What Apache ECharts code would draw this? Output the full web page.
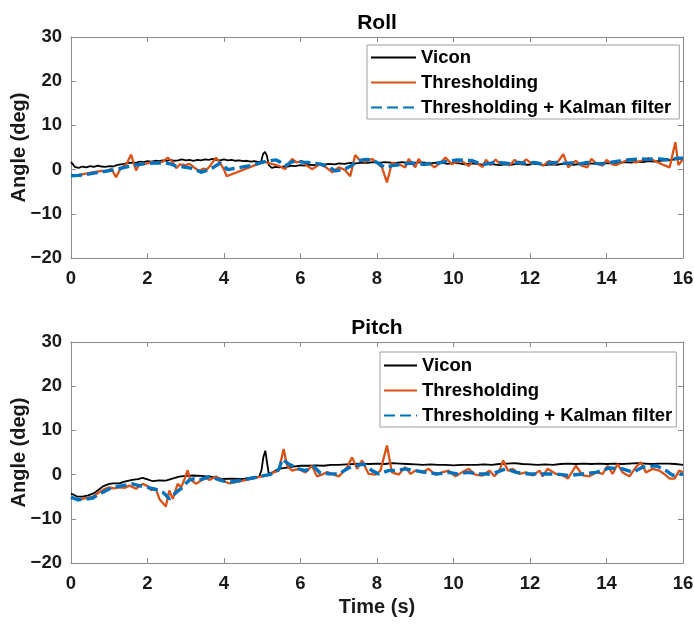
<!DOCTYPE html>
<html>
<head>
<meta charset="utf-8">
<script src="https://cdn.jsdelivr.net/npm/echarts@6/dist/echarts.min.js"></script>
<style>
  html, body { margin: 0; padding: 0; background: #fff; }
  #chart { width: 694px; height: 626px; }
</style>
</head>
<body>
<div id="chart"></div>
<script>
// Attitude estimates over time: [time (s), angle (deg)]
const rollVicon = [[0,1.7],[0.05,1.2],[0.1,0.6],[0.2,0.4],[0.3,0.7],[0.4,0.5],[0.5,0.8],[0.6,0.6],[0.7,0.9],[0.8,0.7],[0.9,0.6],[1.0,0.8],[1.1,0.7],[1.2,1.0],[1.3,1.2],[1.4,1.3],[1.5,1.5],[1.6,1.6],[1.7,1.5],[1.8,1.8],[1.9,1.7],[2.0,1.9],[2.1,1.8],[2.2,2.0],[2.3,1.9],[2.4,2.1],[2.5,2.0],[2.6,2.2],[2.7,2.0],[2.8,2.1],[2.9,2.3],[3.0,2.1],[3.1,2.2],[3.2,2.0],[3.3,2.2],[3.4,2.1],[3.5,2.3],[3.6,2.2],[3.7,2.4],[3.8,2.2],[3.9,2.1],[4.0,2.3],[4.1,2.1],[4.2,2.2],[4.3,2.0],[4.4,2.1],[4.5,1.9],[4.6,2.0],[4.7,1.8],[4.8,1.9],[4.9,1.7],[4.97,1.8],[5.02,3.5],[5.07,4.0],[5.12,3.2],[5.17,1.0],[5.25,0.4],[5.35,0.6],[5.45,0.5],[5.55,0.7],[5.65,0.6],[5.75,0.9],[5.85,0.8],[6.0,1.0],[6.1,0.9],[6.2,1.1],[6.35,1.0],[6.5,1.2],[6.6,1.1],[6.75,1.3],[6.9,1.2],[7.0,1.4],[7.15,1.3],[7.3,1.5],[7.45,1.4],[7.6,1.6],[7.75,1.5],[7.9,1.7],[8.05,1.5],[8.2,1.7],[8.35,1.6],[8.5,1.5],[8.65,1.7],[8.8,1.6],[8.95,1.5],[9.1,1.7],[9.25,1.6],[9.4,1.4],[9.55,1.6],[9.7,1.5],[9.85,1.3],[10.0,1.5],[10.15,1.4],[10.3,1.2],[10.45,1.4],[10.6,1.3],[10.75,1.1],[10.9,1.3],[11.05,1.2],[11.2,1.0],[11.35,1.2],[11.5,1.1],[11.65,1.3],[11.8,1.2],[11.95,1.1],[12.1,1.3],[12.25,1.2],[12.4,1.0],[12.55,1.2],[12.7,1.1],[12.85,1.3],[13.0,1.2],[13.15,1.1],[13.3,1.3],[13.45,1.2],[13.6,1.4],[13.75,1.3],[13.9,1.5],[14.05,1.4],[14.2,1.6],[14.35,1.5],[14.5,1.7],[14.65,1.6],[14.8,1.8],[14.95,1.7],[15.1,1.9],[15.25,1.8],[15.4,2.0],[15.55,2.1],[15.7,2.2],[15.85,2.4],[16.0,2.6]];

const rollThresh = [[0,-1.3],[0.2,-1.2],[0.4,-0.9],[0.6,-0.6],[0.8,-0.3],[0.95,-0.4],[1.05,0.2],[1.18,-1.7],[1.3,0.3],[1.45,1.2],[1.57,3.4],[1.7,-0.2],[1.8,1.5],[1.95,1.3],[2.1,1.7],[2.25,1.5],[2.4,1.8],[2.53,2.7],[2.65,1.8],[2.75,0.3],[2.85,1.2],[3.0,1.0],[3.1,1.3],[3.2,0.6],[3.35,-0.3],[3.45,0.2],[3.55,0.0],[3.65,1.0],[3.79,2.7],[3.9,1.5],[4.0,0.0],[4.07,-1.5],[5.05,1.8],[5.15,1.5],[5.3,1.2],[5.45,0.8],[5.6,0.1],[5.78,2.4],[5.9,1.6],[6.04,2.0],[6.15,1.0],[6.3,0.1],[6.5,1.2],[6.65,0.6],[6.83,-0.6],[7.0,0.5],[7.15,0.0],[7.3,-1.5],[7.43,3.3],[7.56,2.0],[7.7,1.8],[7.87,2.4],[8.0,1.6],[8.13,0.5],[8.26,-2.9],[8.39,1.5],[8.57,1.2],[8.74,0.5],[8.83,2.4],[9.0,0.5],[9.09,2.4],[9.2,1.0],[9.35,1.6],[9.5,0.5],[9.65,1.5],[9.79,2.7],[9.96,1.2],[10.1,1.8],[10.2,2.0],[10.4,0.8],[10.5,2.0],[10.65,1.2],[10.76,0.6],[10.85,2.2],[10.97,1.0],[11.1,2.3],[11.2,1.4],[11.35,1.6],[11.47,0.9],[11.6,2.2],[11.75,1.2],[11.8,0.8],[11.9,2.3],[12.05,1.3],[12.2,1.6],[12.35,0.9],[12.5,2.0],[12.65,1.2],[12.75,2.0],[12.87,3.5],[13.0,0.5],[13.1,1.4],[13.2,2.0],[13.35,0.9],[13.5,0.5],[13.6,2.4],[13.75,1.3],[13.9,0.9],[14.0,2.2],[14.15,1.2],[14.25,1.0],[14.4,1.6],[14.6,2.4],[14.75,1.6],[14.9,2.0],[15.1,2.6],[15.25,2.0],[15.4,1.4],[15.5,1.0],[15.65,0.5],[15.8,6.2],[15.88,1.0],[16.0,2.4]];

const rollKalman = [[0,-1.4],[0.2,-1.3],[0.4,-1.1],[0.6,-0.8],[0.75,-0.6],[0.95,-0.3],[1.18,0.0],[1.4,0.5],[1.6,0.9],[1.8,1.2],[2.0,1.35],[2.2,1.5],[2.45,1.5],[2.6,1.3],[2.75,0.8],[2.95,0.6],[3.1,0.4],[3.25,0.0],[3.4,-0.6],[3.55,-0.2],[3.7,0.4],[3.9,1.5],[4.1,0.0],[4.3,0.3],[4.5,0.6],[4.7,0.9],[4.9,1.4],[5.1,1.9],[5.35,2.2],[5.45,1.8],[5.6,0.8],[5.75,1.7],[5.9,1.9],[6.05,1.7],[6.2,1.6],[6.4,1.4],[6.55,1.2],[6.75,0.6],[6.9,-0.3],[7.05,-0.1],[7.2,0.3],[7.35,1.0],[7.5,2.0],[7.7,2.3],[7.87,2.2],[8.0,1.6],[8.2,0.5],[8.4,0.9],[8.57,1.1],[8.75,1.3],[8.92,1.5],[9.1,1.3],[9.27,1.2],[9.45,1.4],[9.6,1.5],[9.8,1.8],[9.96,2.0],[10.1,2.2],[10.3,2.1],[10.5,2.0],[10.65,1.5],[10.8,1.2],[10.95,1.4],[11.1,1.7],[11.3,1.5],[11.5,1.3],[11.7,1.6],[11.9,1.4],[12.1,1.6],[12.3,1.3],[12.5,1.5],[12.7,1.6],[12.9,1.4],[13.1,1.5],[13.3,1.3],[13.5,1.6],[13.7,1.4],[13.9,1.3],[14.1,1.6],[14.3,1.9],[14.5,2.1],[14.7,2.3],[14.9,2.4],[15.1,2.3],[15.3,2.5],[15.5,2.3],[15.7,2.2],[15.85,2.6],[16.0,2.6]];

const pitchVicon = [[0,-4.3],[0.08,-4.6],[0.17,-5.0],[0.3,-5.0],[0.45,-4.7],[0.6,-4.2],[0.74,-3.3],[0.85,-2.6],[1.0,-2.1],[1.1,-2.0],[1.26,-2.0],[1.4,-1.6],[1.6,-1.2],[1.75,-1.0],[1.87,-0.75],[2.0,-1.1],[2.14,-1.5],[2.3,-1.3],[2.48,-1.35],[2.65,-0.9],[2.83,-0.45],[3.0,-0.3],[3.18,-0.2],[3.4,-0.3],[3.62,-0.45],[3.8,-0.7],[3.97,-1.0],[4.2,-0.9],[4.49,-1.0],[4.7,-0.7],[4.92,-0.45],[4.98,1.0],[5.03,4.0],[5.08,5.4],[5.13,2.5],[5.17,0.2],[5.27,0.5],[5.36,1.0],[5.5,1.4],[5.65,1.6],[5.8,1.8],[6.0,2.0],[6.2,2.0],[6.4,2.1],[6.6,2.0],[6.8,2.2],[7.0,2.2],[7.2,2.3],[7.4,2.4],[7.6,2.5],[7.8,2.4],[8.0,2.5],[8.2,2.4],[8.4,2.6],[8.6,2.5],[8.8,2.4],[9.0,2.3],[9.2,2.2],[9.4,2.3],[9.6,2.2],[9.8,2.2],[10.0,2.1],[10.2,2.2],[10.4,2.2],[10.6,2.2],[10.8,2.3],[11.0,2.2],[11.2,2.4],[11.4,2.5],[11.6,2.6],[11.8,2.4],[12.0,2.3],[12.2,2.2],[12.4,2.3],[12.6,2.2],[12.8,2.4],[13.0,2.5],[13.2,2.4],[13.4,2.5],[13.6,2.4],[13.8,2.5],[14.0,2.4],[14.2,2.5],[14.4,2.4],[14.6,2.5],[14.8,2.6],[15.0,2.5],[15.2,2.4],[15.4,2.5],[15.6,2.5],[15.8,2.4],[16.0,2.2]];

const pitchThresh = [[0,-5.1],[0.15,-5.6],[0.3,-5.5],[0.45,-5.2],[0.57,-5.0],[0.74,-4.0],[0.87,-3.3],[1.0,-2.9],[1.12,-3.1],[1.26,-2.9],[1.4,-3.0],[1.53,-2.5],[1.7,-3.2],[1.87,-2.1],[2.0,-2.6],[2.09,-3.5],[2.22,-3.2],[2.31,-5.5],[2.48,-7.2],[2.57,-3.6],[2.66,-5.5],[2.79,-2.1],[2.88,-2.9],[2.96,-1.2],[3.05,1.0],[3.11,-1.0],[3.27,-2.1],[3.4,-1.35],[3.53,-0.75],[3.62,-1.2],[3.79,-0.45],[3.97,-1.35],[4.14,-2.0],[4.6,-1.2],[5.1,-0.2],[5.3,0.5],[5.43,0.9],[5.56,5.8],[5.65,2.0],[5.78,0.9],[5.95,1.3],[6.13,0.5],[6.3,2.0],[6.43,-0.4],[6.56,0.0],[6.7,0.6],[6.82,0.15],[7.0,-0.4],[7.1,0.5],[7.22,1.7],[7.35,3.9],[7.48,1.3],[7.61,3.2],[7.78,0.15],[7.96,0.0],[8.09,0.9],[8.26,6.6],[8.39,0.5],[8.57,0.0],[8.74,1.7],[8.87,0.15],[9.0,0.9],[9.18,0.5],[9.35,1.3],[9.52,0.0],[9.7,0.5],[9.87,0.9],[10.05,-0.4],[10.22,0.5],[10.4,1.3],[10.57,0.0],[10.76,-0.2],[10.94,0.9],[11.07,-0.4],[11.2,0.9],[11.3,3.2],[11.42,0.9],[11.55,1.3],[11.72,0.15],[11.9,0.5],[12.07,-0.2],[12.25,0.9],[12.33,-0.4],[12.46,1.3],[12.68,0.15],[12.86,-0.2],[12.99,-0.9],[13.2,2.0],[13.38,-0.2],[13.55,-0.4],[13.73,0.5],[13.9,0.15],[14.03,2.0],[14.16,0.15],[14.29,2.4],[14.42,0.5],[14.6,-0.4],[14.77,1.7],[14.9,2.8],[15.03,0.5],[15.21,1.3],[15.38,0.9],[15.51,0.15],[15.65,-0.9],[15.78,-0.9],[15.9,0.9],[16.0,0.5]];

const pitchKalman = [[0,-5.1],[0.17,-5.7],[0.35,-5.6],[0.57,-5.3],[0.7,-4.6],[0.83,-4.0],[0.96,-3.4],[1.09,-2.9],[1.22,-2.7],[1.35,-2.5],[1.48,-2.3],[1.6,-2.1],[1.73,-2.4],[1.87,-2.7],[2.0,-2.9],[2.14,-3.2],[2.27,-3.5],[2.4,-4.0],[2.5,-4.8],[2.57,-5.5],[2.66,-4.8],[2.75,-4.0],[2.84,-3.4],[2.92,-2.9],[3.0,-2.0],[3.1,-1.2],[3.22,-1.0],[3.36,-1.2],[3.5,-0.8],[3.62,-0.45],[3.75,-0.8],[3.88,-1.2],[4.0,-1.5],[4.14,-1.7],[4.3,-1.5],[4.49,-1.2],[4.66,-0.9],[4.84,-0.6],[5.0,-0.3],[5.19,0.0],[5.36,0.5],[5.45,1.5],[5.52,3.5],[5.69,2.4],[5.95,1.3],[6.13,0.9],[6.35,1.8],[6.52,0.3],[6.75,0.2],[7.0,0.15],[7.26,1.5],[7.43,2.0],[7.65,2.4],[7.87,0.9],[8.04,0.15],[8.3,0.9],[8.57,1.0],[8.74,1.3],[9.0,0.9],[9.26,0.5],[9.6,0.15],[9.87,0.5],[10.1,0.15],[10.4,0.5],[10.6,0.15],[11.0,0.15],[11.37,1.3],[11.64,0.5],[11.98,0.15],[12.3,0.15],[12.68,0.15],[13.03,-0.2],[13.38,0.15],[13.73,0.5],[14.08,1.5],[14.42,1.3],[14.69,0.5],[14.95,1.7],[15.3,2.0],[15.56,0.9],[15.73,-0.15],[15.9,0.15],[16.0,0.0]];

const seriesNames = ['Vicon', 'Thresholding', 'Thresholding + Kalman filter'];
const panelTitles = ['Roll', 'Pitch'];
const xLabel = 'Time (s)';
const yLabel = 'Angle (deg)';

const FONT = '"Liberation Sans", Arial, sans-serif';
const AXIS_COLOR = '#8a8a8a';
const TEXT_COLOR = '#1a1a1a';

const gridTops = [37, 342];

function xAx(gridIndex, isTop, showLabels, name) {
  return {
    type: 'value', gridIndex, position: isTop ? 'top' : 'bottom',
    min: 0, max: 16, interval: 2,
    name: name || '', nameLocation: 'middle', nameGap: 34, nameMoveOverlap: false,
    nameTextStyle: { fontFamily: FONT, fontWeight: 'bold', fontSize: 20, color: TEXT_COLOR },
    axisLine: { show: true, onZero: false, lineStyle: { color: AXIS_COLOR, width: 1 } },
    axisTick: { show: true, inside: true, length: 5, lineStyle: { color: AXIS_COLOR } },
    axisLabel: { show: showLabels, margin: 11, fontFamily: FONT, fontWeight: 'bold', fontSize: 18.5, color: TEXT_COLOR },
    splitLine: { show: false }
  };
}
function yAx(gridIndex, isRight, showLabels, name) {
  return {
    type: 'value', gridIndex, position: isRight ? 'right' : 'left',
    min: -20, max: 30, interval: 10,
    name: name || '', nameLocation: 'middle', nameGap: 42, nameMoveOverlap: false,
    nameTextStyle: { fontFamily: FONT, fontWeight: 'bold', fontSize: 20, color: TEXT_COLOR },
    axisLine: { show: true, onZero: false, lineStyle: { color: AXIS_COLOR, width: 1 } },
    axisTick: { show: true, inside: true, length: 5, lineStyle: { color: AXIS_COLOR } },
    axisLabel: {
      show: showLabels, margin: 9, fontFamily: FONT, fontWeight: 'bold', fontSize: 18.5, color: TEXT_COLOR,
      formatter: v => String(v).replace('-', '\u2212')
    },
    splitLine: { show: false }
  };
}

const styles = [
  { color: '#000000', width: 1.8, type: 'solid' },
  { color: '#D95319', width: 2.3, type: 'solid' },
  { color: '#0072BD', width: 3.4, type: [11, 5] }
];

function lineSeries(name, data, axisIdx, style) {
  return {
    name, type: 'line', data, xAxisIndex: axisIdx, yAxisIndex: axisIdx,
    showSymbol: false, symbol: 'none', smooth: false,
    lineStyle: { color: style.color, width: style.width, type: style.type },
    itemStyle: { color: style.color },
    emphasis: { disabled: true }
  };
}

function legendAt(left, top, itemWidth, padTop, padRight) {
  return {
    orient: 'vertical', left, top, data: seriesNames,
    backgroundColor: '#ffffff', borderColor: '#a0a0a0', borderWidth: 1,
    padding: [padTop, padRight, 2, 3], itemGap: 6, itemWidth, itemHeight: 18,
    itemStyle: { opacity: 0, borderWidth: 0 },
    textStyle: { fontFamily: FONT, fontWeight: 'bold', fontSize: 18.5, color: '#000', lineHeight: 18 }
  };
}

const option = {
  animation: false,
  backgroundColor: '#ffffff',
  title: panelTitles.map((t, i) => ({
    text: t, left: 377, top: gridTops[i] - 24, textAlign: 'center', padding: 0,
    textStyle: { fontFamily: FONT, fontWeight: 'bold', fontSize: 21, color: '#000' }
  })),
  grid: gridTops.map(t => ({
    left: 71, right: 11, top: t, height: 221, containLabel: false, outerBoundsMode: 'none'
  })),
  xAxis: [
    xAx(0, false, true), xAx(0, true, false),
    xAx(1, false, true, xLabel), xAx(1, true, false)
  ],
  yAxis: [
    yAx(0, false, true, yLabel), yAx(0, true, false),
    yAx(1, false, true, yLabel), yAx(1, true, false)
  ],
  legend: [legendAt(367, 45, 45, 3, 8), legendAt(380, 352, 33, 4, 4)],
  series: [
    lineSeries(seriesNames[0], rollVicon, 0, styles[0]),
    lineSeries(seriesNames[1], rollThresh, 0, styles[1]),
    lineSeries(seriesNames[2], rollKalman, 0, styles[2]),
    lineSeries(seriesNames[0], pitchVicon, 2, styles[0]),
    lineSeries(seriesNames[1], pitchThresh, 2, styles[1]),
    lineSeries(seriesNames[2], pitchKalman, 2, styles[2])
  ]
};

const chart = echarts.init(document.getElementById('chart'), null, { renderer: 'canvas' });
chart.setOption(option);
</script>
</body>
</html>
